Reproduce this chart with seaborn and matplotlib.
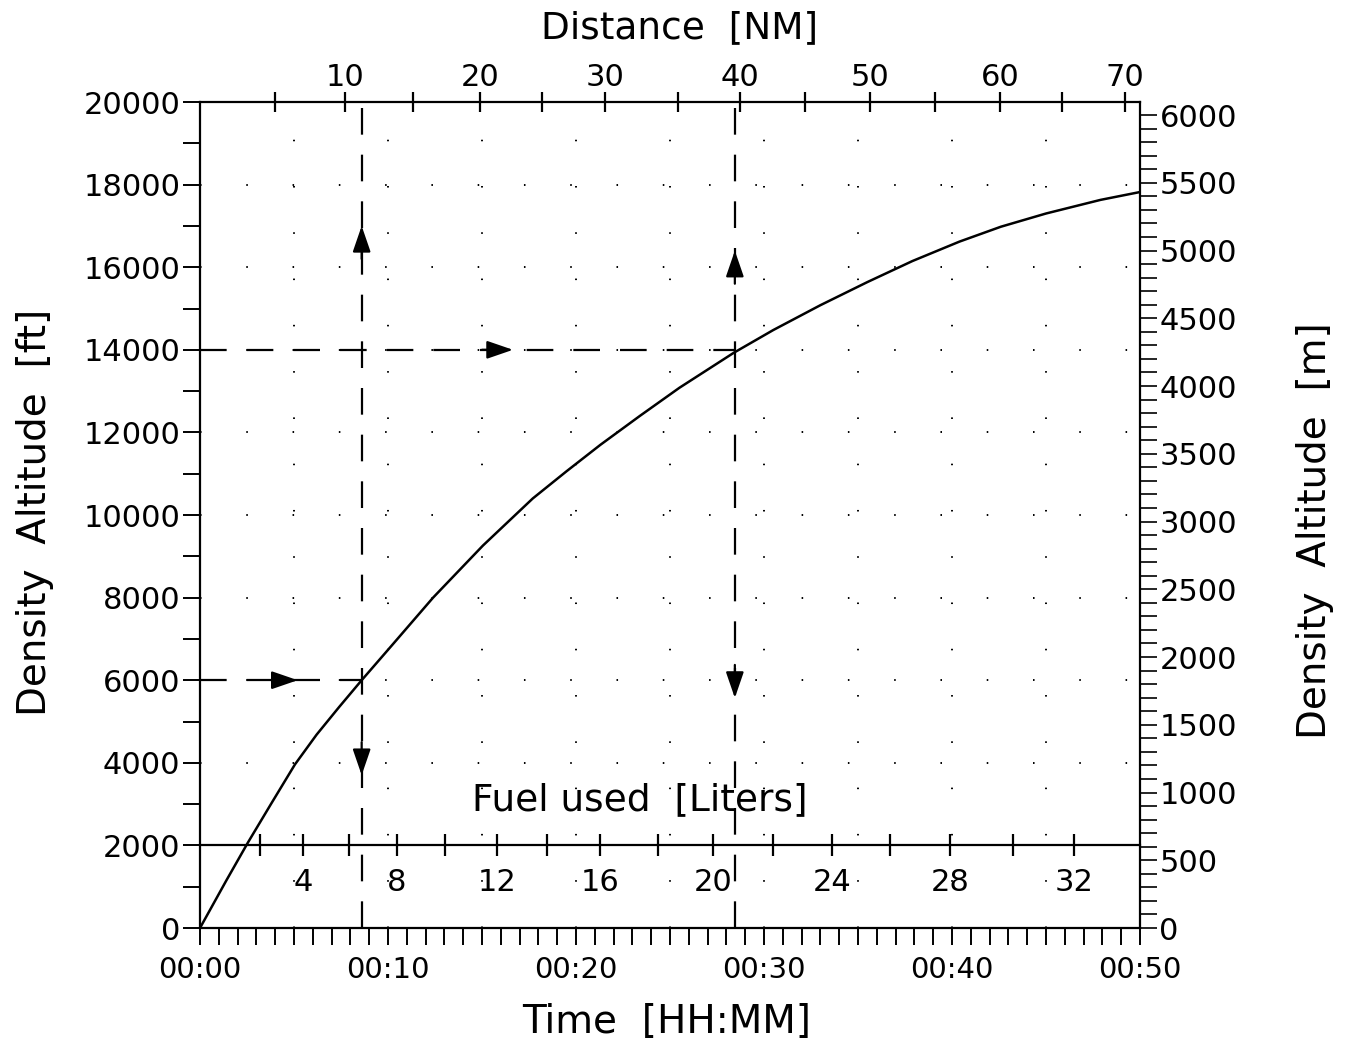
import numpy as np
import pandas as pd
import matplotlib
matplotlib.use("Agg")
import matplotlib.pyplot as plt
from matplotlib.ticker import FixedLocator, MultipleLocator, NullFormatter
import seaborn as sns

# Climb profile: elapsed time [min] vs density altitude [ft]
climb_time_min = [0, 1.4, 2.55, 3.8, 5.05, 6.2, 7.4, 8.6, 10.2, 12.4, 15.05, 17.7,
                  19.5, 21.3, 23.4, 25.5, 28.4, 30.5, 33.0, 35.5, 37.9, 40.4,
                  42.6, 45.0, 47.9, 50.0]
climb_alt_ft = [0, 1150, 2070, 3020, 3960, 4680, 5350, 6000, 6840, 8000, 9260, 10400,
                11060, 11700, 12400, 13080, 13930, 14480, 15080, 15640, 16150, 16620,
                16980, 17300, 17630, 17820]

# Distance flown [NM] reached at a given elapsed time [min]
distance_nm = [5, 10, 15, 20, 25, 30, 35, 40, 45, 50, 55, 60, 65, 70]
distance_time_min = [3.99, 7.71, 11.33, 14.89, 18.2, 21.54, 25.4, 28.72, 32.18,
                     35.64, 39.10, 42.55, 45.85, 49.20]

# Fuel used [L] reached at a given elapsed time [min]
fuel_liters = [2, 4, 6, 8, 10, 12, 14, 16, 18, 20, 22, 24, 26, 28, 30, 32]
fuel_time_min = [3.19, 5.48, 7.93, 10.48, 13.03, 15.80, 18.46, 21.28, 24.36,
                 27.29, 30.48, 33.62, 36.70, 39.89, 43.24, 46.49]

# Example readings: 6000 ft and 14000 ft
example_alt_ft = [6000, 14000]
example_time_min = [8.6, 28.45]

time_labels = ["00:00", "00:10", "00:20", "00:30", "00:40", "00:50"]
FT_TO_M = 0.3048

sns.set_style("ticks", {"text.color": "black", "xtick.color": "black",
                        "ytick.color": "black", "axes.edgecolor": "black",
                        "axes.labelcolor": "black"})
plt.rcParams["font.family"] = ["DejaVu Sans"]
plt.rcParams["axes.linewidth"] = 1.6

fig = plt.figure(figsize=(13.57, 10.52), dpi=100)
ax = fig.add_axes([0.14738, 0.11787, 0.69270, 0.78517])

# dotted background grid
dot_style = dict(color="k", lw=1.4, dashes=(0.8, 23), zorder=1)
for t in np.arange(5, 50, 5):
    ax.plot([t, t], [0, 20000], **dot_style)
for h in np.arange(4000, 20000, 2000):
    ax.plot([0, 50], [h, h], **dot_style)

df = pd.DataFrame({"time": climb_time_min, "alt": climb_alt_ft})
sns.lineplot(data=df, x="time", y="alt", ax=ax, color="k", lw=1.8, zorder=4)

ax.set_xlim(0, 50)
ax.set_ylim(0, 20000)
ax.set_xlabel("")
ax.set_ylabel("")

ax.xaxis.set_minor_locator(MultipleLocator(1))
ax.set_xticks(np.arange(0, 51, 10))
ax.set_xticklabels(time_labels)
ax.yaxis.set_major_locator(MultipleLocator(2000))
ax.yaxis.set_minor_locator(MultipleLocator(1000))
ax.tick_params(axis="both", which="both", direction="out", length=12, width=1.4,
               labelsize=22, colors="k")
ax.tick_params(axis="x", which="major", labelsize=21, pad=8)
ax.tick_params(axis="y", which="major", pad=2)
ax.tick_params(top=False, right=False, which="both")
for s in ["top", "right"]:
    ax.spines[s].set_visible(False)

# right axis in metres
ax_m = ax.twinx()
ax_m.set_ylim(0, 20000 * FT_TO_M)
ax_m.yaxis.set_major_locator(MultipleLocator(500))
ax_m.yaxis.set_minor_locator(MultipleLocator(100))
ax_m.tick_params(axis="y", which="both", direction="out", length=12, width=1.2,
                 labelsize=22, pad=2, colors="k")
for s in ["top", "left", "bottom"]:
    ax_m.spines[s].set_visible(False)
ax_m.spines["right"].set_linewidth(1.6)

# top axis: distance
ax_d = ax.twiny()
ax_d.set_xlim(0, 50)
major_d = [(t, d) for t, d in zip(distance_time_min, distance_nm) if d % 10 == 0]
minor_d = [t for t, d in zip(distance_time_min, distance_nm) if d % 10 != 0]
ax_d.xaxis.set_major_locator(FixedLocator([t for t, _ in major_d]))
ax_d.set_xticklabels([str(d) for _, d in major_d])
ax_d.xaxis.set_minor_locator(FixedLocator(minor_d))
ax_d.tick_params(axis="x", which="both", direction="inout", length=14, width=1.6,
                 labelsize=22, pad=0, colors="k")
for s in ["left", "right", "bottom"]:
    ax_d.spines[s].set_visible(False)
ax_d.spines["top"].set_linewidth(1.6)

# fuel scale drawn across the plot at 2000 ft
ax_f = ax.twiny()
ax_f.set_xlim(0, 50)
for s in ["left", "right", "top"]:
    ax_f.spines[s].set_visible(False)
ax_f.spines["bottom"].set_position(("data", 2000))
ax_f.spines["bottom"].set_linewidth(1.6)
ax_f.xaxis.set_ticks_position("bottom")
ax_f.xaxis.set_label_position("bottom")
major_f = [(t, f) for t, f in zip(fuel_time_min, fuel_liters) if f % 4 == 0]
minor_f = [t for t, f in zip(fuel_time_min, fuel_liters) if f % 4 != 0]
ax_f.xaxis.set_major_locator(FixedLocator([t for t, _ in major_f]))
ax_f.set_xticklabels([str(f) for _, f in major_f])
ax_f.xaxis.set_minor_locator(FixedLocator(minor_f))
ax_f.xaxis.set_minor_formatter(NullFormatter())
ax_f.tick_params(axis="x", which="both", direction="inout", length=16, width=1.6,
                 labelsize=22, pad=8, colors="k")
ax_f.text(0.468, 0.155, "Fuel used  [Liters]", transform=ax.transAxes,
          ha="center", va="center", fontsize=27)

# dashed reading lines with arrows
dash_kw = dict(color="k", lw=1.6, dashes=(12, 9), zorder=3)
for t_ex, h_ex in zip(example_time_min, example_alt_ft):
    ax.plot([0, t_ex], [h_ex, h_ex], **dash_kw)
    ax.plot([t_ex, t_ex], [0, 20000], **dash_kw)

arrow_kw = dict(arrowstyle="-|>,head_length=1.6,head_width=0.55", color="k", lw=1.6,
                shrinkA=0, shrinkB=0)
t_l, t_r = example_time_min
h_l, h_r = example_alt_ft
ax.annotate("", xy=(5.2, h_l), xytext=(3.8, h_l), arrowprops=arrow_kw, zorder=5)
ax.annotate("", xy=(16.65, h_r), xytext=(15.0, h_r), arrowprops=arrow_kw, zorder=5)
ax.annotate("", xy=(t_l, 17000), xytext=(t_l, 16200), arrowprops=arrow_kw, zorder=5)
ax.annotate("", xy=(t_l, 3700), xytext=(t_l, 4500), arrowprops=arrow_kw, zorder=5)
ax.annotate("", xy=(t_r, 16400), xytext=(t_r, 15600), arrowprops=arrow_kw, zorder=5)
ax.annotate("", xy=(t_r, 5570), xytext=(t_r, 6370), arrowprops=arrow_kw, zorder=5)

# axis titles
fig.text(0.5011, 0.9734, "Distance  [NM]", ha="center", va="center", fontsize=27)
fig.text(0.4915, 0.0285, "Time  [HH:MM]", ha="center", va="center", fontsize=28)
fig.text(0.0258, 0.5133, "Density  Altitude  [ft]", ha="center", va="center",
         rotation=90, fontsize=28)
fig.text(0.969, 0.496, "Density  Altitude  [m]", ha="center", va="center",
         rotation=90, fontsize=28)

fig.savefig("out.png", dpi=100, facecolor="white")
